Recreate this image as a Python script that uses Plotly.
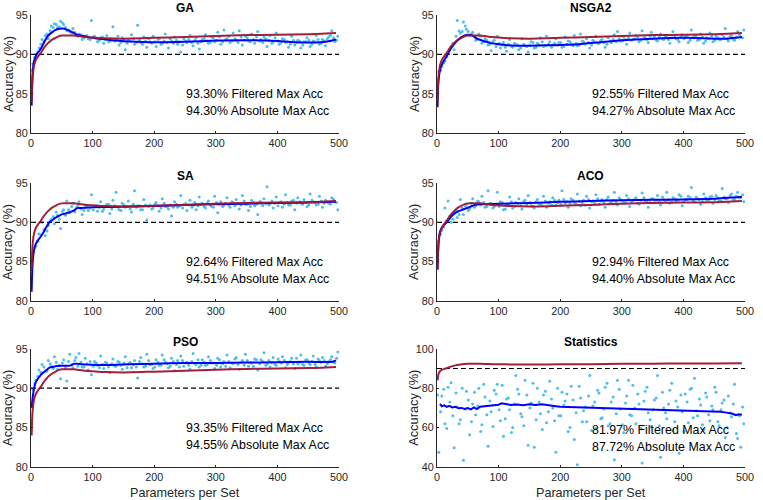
import plotly.graph_objects as go

# ---------------- data ----------------
panel_titles = ["GA", "NSGA2", "SA", "ACO", "PSO", "Statistics"]
filtered_max = ["93.30%", "92.55%", "92.64%", "92.94%", "93.35%", "81.97%"]
absolute_max = ["94.30%", "94.27%", "94.51%", "94.40%", "94.55%", "87.72%"]

x_tick_vals = [0, 100, 200, 300, 400, 500]
y_tick_main = [80, 85, 90, 95]
y_tick_stats = [40, 60, 80, 100]
threshold = 90

# sampled parameter counts for the scatter of raw accuracies (two interleaved samples)
scatter_x_a = list(range(3, 500, 5))
scatter_x_b = list(range(1, 500, 5))

ga_raw_a = [88.8, 90.0, 90.8, 91.9, 92.4, 92.0, 93.6, 93.9, 93.4, 94.2,
            93.8, 93.0, 92.9, 93.3, 92.4, 92.6, 91.9, 92.3, 92.0, 94.3,
            92.3, 91.6, 92.1, 91.4, 92.4, 91.7, 93.5, 91.9, 91.2, 92.1,
            90.6, 91.8, 92.5, 91.3, 93.7, 91.5, 92.2, 90.9, 91.6, 92.3,
            91.0, 92.0, 91.4, 92.6, 90.8, 91.7, 92.2, 91.3, 90.3, 92.0,
            91.5, 92.4, 91.1, 92.1, 90.7, 91.9, 92.5, 91.4, 92.2, 91.6,
            92.8, 91.3, 93.1, 92.0, 91.5, 92.7, 91.8, 93.0, 91.2, 92.3,
            91.7, 92.6, 91.4, 92.9, 91.9, 92.2, 91.0, 92.4, 91.6, 92.7,
            91.3, 92.0, 91.5, 90.9, 92.3, 91.2, 91.8, 90.8, 91.6, 92.1,
            91.0, 91.7, 92.4, 91.3, 91.9, 91.1, 92.2, 93.0, 91.6, 92.3]
ga_raw_b = [88.0, 89.6, 90.3, 91.3, 91.6, 92.6, 93.0, 93.4, 93.8, 93.5,
            94.0, 93.4, 93.1, 92.7, 92.8, 92.3, 92.5, 92.1, 92.4, 91.9,
            92.2, 92.0, 91.8, 92.2, 91.9, 91.6, 92.0, 91.7, 92.3, 91.5,
            91.9, 91.4, 91.7, 92.0, 91.5, 91.8, 91.3, 91.7, 92.0, 91.4,
            91.6, 91.9, 91.3, 91.7, 91.5, 92.0, 91.4, 91.8, 91.6, 91.2,
            91.7, 91.9, 91.5, 91.8, 91.4, 91.6, 92.0, 91.7, 91.5, 92.1,
            91.8, 92.2, 91.6, 91.9, 92.3, 91.7, 92.0, 91.5, 92.2, 91.8,
            92.1, 91.6, 91.9, 92.2, 91.7, 91.5, 92.0, 91.8, 91.4, 92.1,
            91.7, 91.5, 91.9, 91.6, 91.3, 91.8, 91.5, 91.7, 91.2, 91.6,
            91.8, 91.3, 91.6, 91.9, 91.4, 91.7, 92.0, 92.4, 92.1, 91.8]

nsga2_raw_a = [87.8, 88.5, 89.2, 90.1, 91.0, 90.6, 94.3, 92.7, 94.1, 93.2,
               92.4, 92.8, 91.8, 92.6, 91.4, 92.0, 91.2, 90.5, 91.8, 92.3,
               90.8, 91.5, 90.4, 91.9, 90.9, 91.3, 90.6, 92.0, 91.1, 90.3,
               91.6, 90.8, 91.4, 92.1, 91.0, 92.3, 91.6, 91.2, 92.0, 91.5,
               90.9, 92.2, 91.7, 91.3, 92.4, 91.1, 92.6, 91.6, 92.0, 90.8,
               91.8, 92.3, 91.4, 91.9, 90.9, 92.1, 91.5, 92.5, 92.9, 91.7,
               92.2, 91.3, 92.7, 91.9, 92.4, 91.6, 93.0, 92.1, 91.5, 92.8,
               92.3, 91.7, 92.6, 91.9, 92.4, 91.4, 92.9, 92.0, 91.6, 92.5,
               92.2, 91.5, 93.1, 92.3, 91.8, 92.6, 91.4, 92.1, 92.7, 91.6,
               92.3, 91.9, 92.5, 93.3, 91.7, 92.4, 91.8, 92.9, 92.2, 93.1]
nsga2_raw_b = [86.0, 88.0, 88.9, 89.7, 90.6, 91.4, 92.3, 93.0, 92.9, 93.6,
               92.9, 92.6, 92.2, 91.9, 92.3, 91.6, 91.8, 91.3, 91.6, 91.0,
               91.4, 91.2, 90.9, 91.3, 91.0, 91.4, 91.2, 90.8, 91.3, 91.0,
               91.2, 91.5, 90.9, 91.2, 91.6, 91.1, 91.3, 90.9, 91.4, 91.2,
               91.5, 91.0, 91.3, 91.6, 91.1, 91.4, 91.2, 91.7, 91.3, 91.5,
               91.2, 91.6, 91.4, 91.8, 91.5, 91.3, 91.7, 91.9, 91.6, 92.0,
               91.7, 91.9, 92.1, 91.8, 92.0, 92.2, 91.8, 92.1, 91.9, 92.3,
               92.0, 91.8, 92.2, 92.0, 92.3, 91.9, 92.1, 92.4, 91.9, 92.2,
               92.0, 92.3, 91.8, 92.1, 92.4, 91.9, 92.2, 91.7, 92.0, 92.3,
               91.8, 92.1, 91.9, 92.2, 92.0, 92.3, 91.9, 92.2, 92.5, 92.1]

sa_raw_a = [86.2, 87.0, 88.5, 90.0, 88.3, 89.6, 90.4, 89.8, 90.9, 89.2,
            91.6, 92.7, 91.2, 92.4, 91.8, 92.6, 91.0, 92.2, 91.5, 93.5,
            92.0, 91.4, 92.6, 91.7, 92.3, 91.1, 92.8, 93.8, 91.6, 92.4,
            91.9, 92.7, 91.3, 94.0, 92.1, 91.6, 92.9, 90.3, 92.2, 91.8,
            92.5, 91.4, 93.0, 92.0, 91.7, 90.8, 92.6, 91.9, 93.4, 92.3,
            91.5, 92.8, 92.1, 91.6, 93.2, 92.4, 91.8, 92.7, 92.0, 93.3,
            91.2, 92.6, 92.2, 93.1, 91.9, 92.5, 92.9, 91.7, 93.4, 92.3,
            91.5, 92.8, 92.1, 91.0, 92.6, 93.0, 94.5, 92.4, 91.8, 93.2,
            92.5, 91.9, 93.5, 92.2, 92.7, 91.6, 93.1, 92.4, 92.9, 92.0,
            93.6, 92.6, 92.2, 93.3, 91.9, 92.8, 92.4, 93.1, 92.6, 91.6]
sa_raw_b = [84.0, 86.8, 87.6, 88.4, 89.1, 88.9, 90.2, 90.7, 91.3, 90.4,
            91.4, 90.9, 91.6, 92.0, 91.3, 92.1, 91.7, 91.5, 92.0, 91.8,
            91.6, 92.1, 91.9, 91.4, 92.0, 92.3, 91.7, 92.1, 91.9, 91.5,
            92.2, 92.0, 91.7, 92.3, 91.9, 92.1, 91.6, 92.2, 92.0, 91.7,
            92.3, 92.1, 91.8, 92.4, 92.0, 92.2, 91.9, 92.3, 92.1, 91.8,
            92.4, 92.2, 91.9, 92.5, 92.1, 92.3, 92.0, 92.4, 92.2, 91.9,
            92.5, 92.3, 92.0, 92.4, 92.2, 92.6, 92.1, 92.4, 92.2, 92.7,
            92.3, 92.0, 92.5, 92.3, 92.6, 92.1, 92.4, 92.2, 92.7, 92.4,
            92.1, 92.6, 92.3, 92.5, 92.2, 92.8, 92.4, 92.6, 92.3, 92.5,
            92.2, 92.8, 92.5, 92.3, 92.7, 92.4, 92.6, 92.3, 92.9, 92.5]

aco_raw_a = [87.6, 89.0, 91.8, 92.7, 90.0, 91.2, 90.6, 92.9, 91.0, 92.3,
             91.7, 93.0, 92.1, 92.6, 93.3, 91.9, 94.0, 92.4, 92.0, 93.8,
             92.6, 91.6, 92.2, 93.2, 91.8, 92.5, 93.0, 91.7, 92.8, 93.4,
             92.1, 91.8, 92.9, 92.3, 93.3, 91.9, 92.6, 93.1, 92.2, 92.8,
             94.0, 92.4, 91.9, 93.0, 92.5, 93.6, 92.1, 92.8, 93.3, 91.8,
             92.7, 93.5, 92.3, 92.9, 91.9, 93.2, 92.6, 93.8, 92.2, 92.9,
             92.4, 93.4, 92.0, 92.8, 93.1, 92.3, 93.7, 92.6, 91.9, 93.0,
             92.5, 93.4, 92.2, 92.9, 93.8, 92.4, 93.1, 92.7, 93.5, 92.1,
             92.9, 93.3, 94.4, 92.6, 93.0, 92.3, 93.6, 92.8, 93.2, 92.4,
             93.4, 92.7, 94.3, 93.0, 92.5, 93.6, 92.9, 93.8, 93.2, 92.6]
aco_raw_b = [85.5, 88.5, 89.4, 90.2, 90.8, 90.4, 91.5, 91.0, 91.8, 92.1,
             91.5, 92.4, 91.9, 92.7, 92.2, 92.5, 92.0, 92.4, 91.8, 92.3,
             92.0, 92.5, 91.7, 92.2, 92.6, 92.0, 92.4, 92.1, 92.7, 92.2,
             92.5, 92.0, 92.6, 92.3, 92.1, 92.7, 92.4, 92.2, 92.8, 92.5,
             92.3, 92.9, 92.6, 92.4, 92.8, 92.3, 92.7, 92.5, 92.2, 92.9,
             92.6, 92.4, 93.0, 92.7, 92.5, 92.9, 92.4, 92.8, 92.6, 93.1,
             92.7, 92.5, 93.0, 92.6, 92.9, 92.4, 92.8, 93.1, 92.7, 92.5,
             93.0, 92.8, 92.6, 93.2, 92.7, 92.9, 92.5, 93.0, 92.8, 93.3,
             92.6, 92.9, 93.1, 92.7, 93.2, 92.9, 92.6, 93.1, 92.8, 93.3,
             92.9, 93.1, 92.7, 93.2, 93.0, 93.4, 92.9, 93.3, 93.1, 93.5]

pso_raw_a = [89.8, 91.0, 92.3, 93.0, 92.1, 93.5, 92.8, 94.0, 92.4, 91.2,
             93.6, 90.9, 94.3, 92.6, 93.9, 94.4, 92.7, 93.8, 92.3, 91.7,
             93.4, 92.9, 94.1, 92.5, 93.2, 92.0, 93.7, 92.8, 93.3, 92.4,
             94.0, 93.1, 92.6, 93.5, 91.3, 93.9, 92.7, 94.3, 93.0, 92.5,
             93.6, 92.9, 94.2, 93.3, 92.6, 93.8, 92.2, 93.5, 94.1, 92.8,
             93.3, 92.4, 94.4, 93.0, 92.7, 93.6, 92.9, 94.0, 93.2, 92.5,
             93.8, 92.7, 93.4, 94.2, 92.6, 93.1, 93.9, 92.4, 93.5, 94.3,
             92.8, 93.2, 93.7, 92.3, 93.6, 94.5, 93.0, 92.7, 93.9, 92.9,
             93.4, 94.0, 92.6, 93.3, 93.8, 92.5, 93.1, 94.2, 92.9, 93.6,
             93.0, 94.1, 92.7, 93.5, 93.9, 92.8, 93.4, 94.0, 93.2, 94.6]
pso_raw_b = [88.0, 90.6, 91.5, 92.0, 92.7, 92.2, 93.1, 92.5, 93.3, 92.9,
             93.2, 92.6, 93.4, 93.0, 93.5, 92.8, 93.3, 92.7, 93.1, 93.4,
             92.8, 93.2, 92.6, 93.0, 93.3, 92.7, 93.1, 92.8, 93.4, 92.9,
             93.2, 92.6, 93.3, 93.0, 92.7, 93.4, 93.1, 92.8, 93.5, 93.0,
             92.7, 93.3, 92.9, 93.6, 93.1, 92.8, 93.4, 93.0, 92.7, 93.5,
             93.2, 92.9, 93.4, 93.1, 93.6, 92.9, 93.3, 93.0, 93.5, 93.2,
             92.9, 93.6, 93.1, 92.8, 93.4, 93.2, 93.7, 93.0, 93.3, 92.9,
             93.5, 93.2, 92.8, 93.6, 93.1, 93.4, 92.9, 93.5, 93.3, 93.0,
             93.7, 93.2, 93.5, 93.0, 93.4, 93.1, 93.8, 93.3, 93.0, 93.6,
             93.2, 93.4, 93.0, 93.7, 93.3, 93.5, 93.1, 93.6, 93.4, 93.8]

stats_raw_a = [47.5, 76.0, 62.0, 80.5, 82.8, 49.8, 70.5, 64.0, 43.4, 78.5,
               56.4, 72.0, 66.5, 80.0, 61.5, 75.5, 50.5, 68.0, 79.0, 82.0,
               63.5, 55.6, 74.5, 69.0, 60.0, 86.5, 77.0, 65.5, 84.0, 51.0,
               72.5, 50.0, 80.0, 67.0, 76.5, 62.5, 83.5, 70.0, 47.5, 66.0,
               78.0, 73.5, 58.0, 81.0, 54.0, 41.2, 75.0, 68.5, 63.0, 86.5,
               71.0, 59.5, 77.5, 65.0, 80.5, 61.0, 73.0, 43.7, 84.0, 69.5,
               57.5, 76.0, 66.5, 81.5, 62.0, 72.0, 42.0, 78.5, 67.5, 60.5,
               74.0, 86.5, 45.0, 70.0, 64.5, 79.0, 58.5, 73.5, 47.0, 68.0,
               77.0, 62.5, 80.0, 85.0, 66.0, 71.5, 59.0, 75.5, 63.5, 69.0,
               78.0, 61.0, 72.5, 55.0, 76.0, 65.5, 82.0, 54.5, 50.0, 62.0]
stats_raw_b = [76.5, 68.0, 79.5, 59.5, 73.0, 66.0, 77.5, 62.0, 80.0, 69.5,
               74.0, 63.0, 78.0, 71.0, 58.0, 82.0, 66.5, 73.5, 60.5, 77.0,
               69.0, 81.5, 64.5, 75.0, 57.5, 72.0, 79.5, 67.0, 61.0, 76.5,
               70.0, 82.5, 64.0, 73.0, 59.0, 78.5, 68.0, 74.5, 63.5, 80.0,
               66.0, 71.5, 77.0, 60.0, 74.0, 67.5, 81.0, 63.0, 70.5, 76.0,
               58.5, 73.0, 79.0, 64.5, 69.5, 82.5, 62.0, 75.5, 67.0, 79.5,
               61.5, 72.5, 84.0, 66.0, 70.0, 77.0, 59.5, 73.5, 80.5, 64.0,
               69.0, 75.0, 61.0, 78.0, 67.5, 72.0, 82.5, 63.0, 70.5, 76.5,
               58.0, 73.0, 79.5, 65.0, 68.5, 74.5, 61.5, 77.5, 66.5, 71.0,
               80.5, 63.0, 69.0, 74.0, 60.0, 67.5, 72.0, 57.0, 66.0, 70.5]

# common reference curve (dark red)
ref_x = [1, 2, 3, 5, 8, 12, 16, 20, 25, 30, 35, 40, 45, 50, 60, 70, 80, 90,
         100, 120, 150, 200, 250, 300, 350, 400, 450, 495]
ref_y = [84.0, 86.3, 87.5, 88.6, 89.3, 89.8, 90.2, 90.7, 91.2, 91.6, 91.9,
         92.1, 92.3, 92.4, 92.4, 92.4, 92.3, 92.2, 92.15, 92.05, 92.0, 92.1,
         92.2, 92.35, 92.45, 92.5, 92.55, 92.7]

# filtered curves (blue)
ga_fx = [1, 2, 3, 5, 8, 10, 14, 18, 23, 28, 34, 40, 46, 52, 58, 65, 72, 80,
         90, 100, 115, 130, 160, 200, 250, 300, 350, 400, 430, 450, 470, 485, 495]
ga_fy = [83.5, 86.5, 88.0, 89.2, 89.8, 90.1, 90.5, 91.0, 91.8, 92.4, 92.8,
         93.1, 93.25, 93.3, 93.15, 92.9, 92.6, 92.4, 92.25, 92.1, 91.95, 91.8,
         91.65, 91.55, 91.6, 91.75, 91.8, 91.7, 91.55, 91.5, 91.55, 91.7, 91.9]

nsga2_fx = [1, 2, 3, 5, 8, 12, 16, 20, 25, 30, 35, 40, 45, 50, 55, 60, 65, 72,
            80, 90, 100, 115, 130, 150, 175, 200, 230, 260, 300, 350, 400, 450,
            470, 495]
nsga2_fy = [83.3, 86.0, 87.0, 88.0, 88.7, 89.3, 89.8, 90.4, 91.0, 91.5, 91.9,
            92.2, 92.4, 92.5, 92.45, 92.3, 92.0, 91.8, 91.6, 91.4, 91.3, 91.15,
            91.1, 91.1, 91.15, 91.2, 91.3, 91.5, 91.8, 92.0, 92.1, 92.0, 92.0, 92.2]

sa_fx = [1, 2, 3, 5, 8, 12, 16, 20, 25, 30, 35, 40, 45, 50, 55, 60, 65, 70, 75,
         80, 90, 100, 130, 160, 200, 250, 300, 350, 400, 450, 495]
sa_fy = [81.2, 83.8, 85.2, 86.5, 87.3, 87.8, 88.2, 88.7, 89.4, 90.0, 90.3, 90.6,
         90.8, 91.0, 91.1, 91.2, 91.35, 91.5, 91.8, 91.8, 91.85, 91.9, 91.95,
         92.0, 92.05, 92.2, 92.3, 92.35, 92.45, 92.5, 92.6]

aco_fx = [1, 2, 3, 5, 8, 12, 16, 20, 25, 30, 35, 40, 45, 50, 55, 60, 65, 70, 80,
          100, 150, 200, 250, 300, 350, 400, 450, 495]
aco_fy = [84.0, 86.5, 87.8, 88.8, 89.3, 89.7, 90.0, 90.4, 90.9, 91.2, 91.4,
          91.55, 91.7, 91.85, 92.0, 92.15, 92.25, 92.3, 92.3, 92.35, 92.45, 92.6,
          92.7, 92.8, 92.85, 92.9, 93.0, 93.2]

pso_fx = [1, 2, 3, 5, 8, 12, 16, 20, 25, 30, 35, 40, 50, 60, 65, 70, 75, 90,
          110, 130, 160, 200, 250, 300, 350, 400, 450, 490, 495]
pso_fy = [87.5, 88.3, 89.0, 90.0, 90.8, 91.3, 91.7, 92.0, 92.3, 92.6, 92.7,
          92.8, 92.85, 92.85, 92.9, 93.1, 93.1, 93.0, 92.95, 92.95, 93.05, 93.1,
          93.2, 93.2, 93.25, 93.3, 93.35, 93.35, 93.55]

stats_fx = [5, 8, 12, 16, 20, 25, 30, 35, 40, 45, 50, 55, 60, 65, 70, 80, 90,
            100, 105, 110, 120, 130, 140, 150, 160, 170, 180, 190, 200, 220, 240,
            260, 280, 300, 320, 340, 360, 380, 400, 420, 440, 460, 470, 480, 485,
            490, 495]
stats_fy = [72.0, 70.8, 71.3, 70.5, 71.0, 70.2, 70.6, 69.8, 70.0, 69.5, 69.9,
            69.2, 70.3, 69.4, 70.6, 70.9, 71.3, 71.6, 72.3, 72.0, 71.5, 71.7,
            71.4, 71.8, 71.5, 71.9, 71.3, 71.0, 70.6, 70.4, 70.1, 69.9, 69.7,
            69.5, 69.4, 69.3, 69.2, 69.0, 68.8, 68.6, 68.4, 68.0, 67.6, 67.0,
            66.3, 66.8, 66.5]

raw_sets = [(ga_raw_a, ga_raw_b), (nsga2_raw_a, nsga2_raw_b), (sa_raw_a, sa_raw_b),
            (aco_raw_a, aco_raw_b), (pso_raw_a, pso_raw_b), (stats_raw_a, stats_raw_b)]
filt_sets = [(ga_fx, ga_fy), (nsga2_fx, nsga2_fy), (sa_fx, sa_fy),
             (aco_fx, aco_fy), (pso_fx, pso_fy), (stats_fx, stats_fy)]

# ---------------- style ----------------
FONT = "Liberation Sans, Arial, Helvetica, sans-serif"
AX_COL = "#262626"
SCAT_COL = "#4DBEEE"
BLUE = "#0000FF"
RED = "#A2142F"

col_domains = [[0.0, 0.4315], [0.5685, 1.0]]
row_domains = [[0.7385, 1.0], [0.367, 0.6286], [0.0, 0.2615]]

fig = go.Figure()
annotations = []

for i in range(6):
    r, c = divmod(i, 2)
    sfx = "" if i == 0 else str(i + 1)
    xa, ya = "x" + sfx, "y" + sfx
    is_stats = panel_titles[i] == "Statistics"

    ra, rb = raw_sets[i]
    fig.add_trace(go.Scatter(x=scatter_x_a + scatter_x_b, y=ra + rb, mode="markers",
                             marker=dict(color=SCAT_COL, size=3, line=dict(width=0)),
                             xaxis=xa, yaxis=ya, showlegend=False, hoverinfo="skip"))
    fig.add_trace(go.Scatter(x=[0, 500], y=[threshold, threshold], mode="lines",
                             line=dict(color="black", width=1.2, dash="5px,3px"),
                             xaxis=xa, yaxis=ya, showlegend=False, hoverinfo="skip"))
    fx, fy = filt_sets[i]
    fig.add_trace(go.Scatter(x=fx, y=fy, mode="lines",
                             line=dict(color=BLUE, width=2,
                                       shape="linear" if is_stats else "spline",
                                       smoothing=0.6),
                             xaxis=xa, yaxis=ya, showlegend=False, hoverinfo="skip"))
    fig.add_trace(go.Scatter(x=ref_x, y=ref_y, mode="lines",
                             line=dict(color=RED, width=2, shape="spline", smoothing=0.6),
                             opacity=0.95,
                             xaxis=xa, yaxis=ya, showlegend=False, hoverinfo="skip"))

    axis_common = dict(showline=True, linecolor=AX_COL, linewidth=1,
                       ticks="inside", ticklen=2, tickcolor=AX_COL,
                       showgrid=False, zeroline=False, mirror=False,
                       tickfont=dict(family=FONT, size=10.8, color=AX_COL))
    xkey = "xaxis" + sfx
    ykey = "yaxis" + sfx
    fig.layout[xkey] = dict(axis_common, domain=col_domains[c], anchor=ya,
                            range=[0, 500], tickvals=x_tick_vals)
    if is_stats:
        fig.layout[ykey] = dict(axis_common, domain=row_domains[r], anchor=xa,
                                range=[40, 100], tickvals=y_tick_stats)
        ty1, ty2 = 58.7, 50.3
    else:
        fig.layout[ykey] = dict(axis_common, domain=row_domains[r], anchor=xa,
                                range=[80, 95], tickvals=y_tick_main)
        ty1, ty2 = 84.95, 82.8

    annotations.append(dict(text="<b>" + panel_titles[i] + "</b>",
                            xref=xa + " domain", yref=ya + " domain",
                            x=0.5, y=1.0, xanchor="center", yanchor="middle",
                            yshift=7, showarrow=False,
                            font=dict(family=FONT, size=12, color="black")))
    annotations.append(dict(text="Accuracy (%)", textangle=-90,
                            xref=xa + " domain", yref=ya + " domain",
                            x=0, y=0.5, xanchor="center", yanchor="middle",
                            xshift=-23, showarrow=False,
                            font=dict(family=FONT, size=12.8, color=AX_COL)))
    annotations.append(dict(text=filtered_max[i] + " Filtered Max Acc",
                            xref=xa, yref=ya, x=248, y=ty1,
                            xanchor="left", yanchor="middle", showarrow=False,
                            font=dict(family=FONT, size=12.4, color="black")))
    annotations.append(dict(text=absolute_max[i] + " Absolute Max Acc",
                            xref=xa, yref=ya, x=248, y=ty2,
                            xanchor="left", yanchor="middle", showarrow=False,
                            font=dict(family=FONT, size=12.4, color="black")))
    if r == 2:
        annotations.append(dict(text="Parameters per Set",
                                xref=xa + " domain", yref=ya + " domain",
                                x=0.5, y=0, xanchor="center", yanchor="middle",
                                yshift=-26, showarrow=False,
                                font=dict(family=FONT, size=12.6, color=AX_COL)))

fig.update_layout(width=763, height=500,
                  margin=dict(l=31, r=9, t=12, b=33),
                  paper_bgcolor="white", plot_bgcolor="white",
                  annotations=annotations, showlegend=False)

fig.write_html("out.html", config={"displayModeBar": False},
               post_script="document.body.style.margin='0px';"
                           "document.body.style.overflow='hidden';")
